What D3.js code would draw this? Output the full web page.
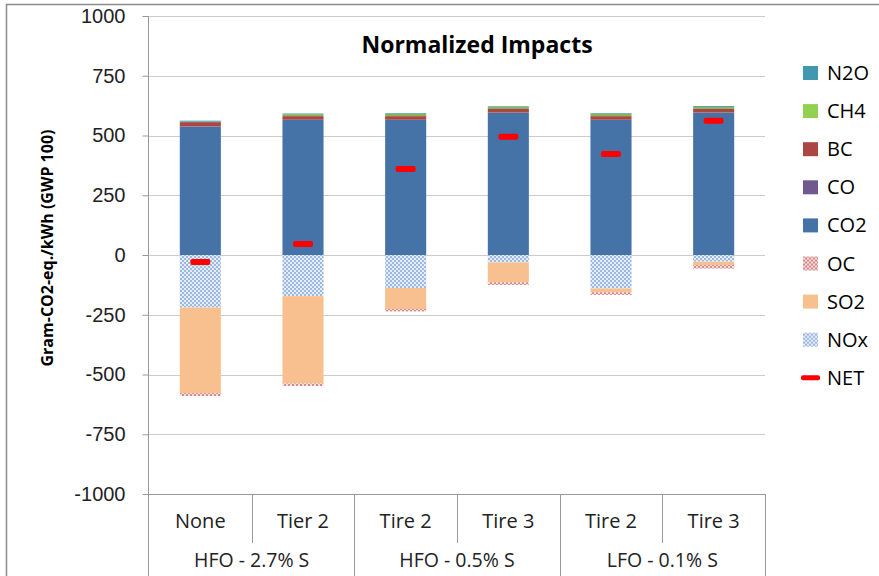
<!DOCTYPE html>
<html>
<head>
<meta charset="utf-8">
<script src="https://cdnjs.cloudflare.com/ajax/libs/d3/7.8.5/d3.min.js"></script>
<style>
  body { margin: 0; background: #fff; }
  svg { font-family: "Open Sans", "Liberation Sans", sans-serif; }
</style>
</head>
<body>
<svg id="chart" width="879" height="576"></svg>
<script>
// categories
var categories = ["None", "Tier 2", "Tire 2", "Tire 3", "Tire 2", "Tire 3"];
var groups = ["HFO - 2.7% S", "HFO - 0.5% S", "LFO - 0.1% S"];

// series values, Gram-CO2-eq./kWh
var CO2 = [537, 565, 565, 595, 565, 595];
var CO  = [1, 1, 1, 1, 1, 1];
var BC  = [18, 15, 15, 15, 15, 15];
var CH4 = [2, 8, 9, 8, 9, 8];
var N2O = [4, 3, 3, 3, 3, 4];
var NOx = [-220, -172, -138, -31, -140, -28];
var SO2 = [-358, -366, -88, -83, -16, -14];
var OC  = [-12, -10, -10, -11, -11, -15];
var NET = [-29, 46, 360, 495, 423, 562];

var yTicks = [1000, 750, 500, 250, 0, -250, -500, -750, -1000];
var legendKeys = ["N2O", "CH4", "BC", "CO", "CO2", "OC", "SO2", "NOx", "NET"];

var svg = d3.select("#chart");

// patterns for NOx and OC
var defs = svg.append("defs");
var pNox = defs.append("pattern").attr("id", "pat-nox")
  .attr("patternUnits", "userSpaceOnUse").attr("width", 4).attr("height", 4);
pNox.append("rect").attr("width", 4).attr("height", 4).attr("fill", "#9db9df");
pNox.append("rect").attr("x", 0).attr("y", 0).attr("width", 2).attr("height", 2).attr("fill", "#e4ecf7");
pNox.append("rect").attr("x", 2).attr("y", 2).attr("width", 2).attr("height", 2).attr("fill", "#e4ecf7");

var pOc = defs.append("pattern").attr("id", "pat-oc")
  .attr("patternUnits", "userSpaceOnUse").attr("width", 4).attr("height", 4);
pOc.append("rect").attr("width", 4).attr("height", 4).attr("fill", "#f6dede");
pOc.append("rect").attr("x", 0).attr("y", 0).attr("width", 2).attr("height", 2).attr("fill", "#d68a88");
pOc.append("rect").attr("x", 2).attr("y", 2).attr("width", 2).attr("height", 2).attr("fill", "#d68a88");

var colors = {
  CO2: "#4572a7", CO: "#71588f", BC: "#aa4643", CH4: "#89b54e", N2O: "#4198af",
  NOx: "url(#pat-nox)", SO2: "#f9c08f", OC: "url(#pat-oc)"
};
var legendColors = {
  N2O: "#4198af", CH4: "#92d050", BC: "#aa4643", CO: "#71588f", CO2: "#4572a7",
  OC: "url(#pat-oc)", SO2: "#f9c08f", NOx: "url(#pat-nox)"
};

// outer frame
svg.append("rect").attr("x", 6.5).attr("y", 4.5).attr("width", 900).attr("height", 600)
  .attr("fill", "none").attr("stroke", "#8c8c8c").attr("stroke-width", 1.5);

var x = d3.scaleBand().domain(d3.range(categories.length)).range([149, 765]).paddingInner(0.6).paddingOuter(0.3);
var xOuter = d3.scaleBand().domain(d3.range(categories.length)).range([149, 765]);
var y = d3.scaleLinear().domain([-1000, 1000]).range([494, 16]);

// gridlines
svg.append("g").selectAll("line").data(yTicks).join("line")
  .attr("x1", 149).attr("x2", 765)
  .attr("y1", function(d){ return Math.round(y(d)) + 0.5; })
  .attr("y2", function(d){ return Math.round(y(d)) + 0.5; })
  .attr("stroke", "#cccccc").attr("stroke-width", 1);

// y axis
var yAxis = svg.append("g").attr("transform", "translate(148.5,0)")
  .call(d3.axisLeft(y).tickValues(yTicks).tickSize(6).tickPadding(17)
    .tickFormat(function(d){ return String(d); }));
yAxis.select(".domain").remove();
yAxis.selectAll(".tick line").attr("stroke", "#999");
yAxis.selectAll(".tick text").attr("font-size", 20).attr("fill", "#222");
svg.append("line").attr("x1", 148.5).attr("x2", 148.5).attr("y1", 16).attr("y2", 576)
  .attr("stroke", "#999");

// stacked bars
var keys = ["CO2", "CO", "BC", "CH4", "N2O", "NOx", "SO2", "OC"];
var series = { CO2: CO2, CO: CO, BC: BC, CH4: CH4, N2O: N2O, NOx: NOx, SO2: SO2, OC: OC };
var table = categories.map(function(c, i){
  var row = { i: i };
  keys.forEach(function(k){ row[k] = series[k][i]; });
  return row;
});
var stack = d3.stack().keys(keys).offset(d3.stackOffsetDiverging)(table);

svg.append("g").selectAll("g").data(stack).join("g")
  .attr("fill", function(d){ return colors[d.key]; })
  .selectAll("rect").data(function(d){ return d; }).join("rect")
  .attr("x", function(d){ return x(d.data.i); })
  .attr("width", x.bandwidth())
  .attr("y", function(d){ return y(Math.max(d[0], d[1])); })
  .attr("height", function(d){ return Math.abs(y(d[0]) - y(d[1])); });

// NET markers
svg.append("g").selectAll("rect").data(NET).join("rect")
  .attr("x", function(d, i){ return x(i) + x.bandwidth() / 2 - 10; })
  .attr("y", function(d){ return y(d) - 3; })
  .attr("width", 20).attr("height", 6).attr("rx", 2)
  .attr("fill", "#ff0000");

// category axis
svg.append("line").attr("x1", 149).attr("x2", 765).attr("y1", 494.5).attr("y2", 494.5).attr("stroke", "#999");
svg.append("g").selectAll("line").data(d3.range(1, categories.length + 1)).join("line")
  .attr("x1", function(d){ return Math.round(xOuter(0) + d * xOuter.step()) + 0.5; })
  .attr("x2", function(d){ return Math.round(xOuter(0) + d * xOuter.step()) + 0.5; })
  .attr("y1", 494)
  .attr("y2", function(d){ return d % 2 === 0 ? 576 : 543; })
  .attr("stroke", "#999");

svg.append("g").selectAll("text").data(categories).join("text")
  .attr("x", function(d, i){ return xOuter(i) + xOuter.bandwidth() / 2; })
  .attr("y", 528).attr("text-anchor", "middle").attr("font-size", 20).attr("fill", "#222")
  .text(function(d){ return d; });

svg.append("g").selectAll("text").data(groups).join("text")
  .attr("x", function(d, i){ return xOuter(i * 2) + xOuter.bandwidth(); })
  .attr("y", 567).attr("text-anchor", "middle").attr("font-size", 19.5).attr("fill", "#222")
  .text(function(d){ return d; });

// title
svg.append("text").attr("x", 477).attr("y", 53).attr("text-anchor", "middle")
  .attr("font-size", 23).attr("font-weight", "bold").attr("fill", "#000")
  .text("Normalized Impacts");

// y axis title
svg.append("text").attr("transform", "translate(53,248) rotate(-90)")
  .attr("text-anchor", "middle").attr("font-size", 16).attr("font-weight", "bold").attr("fill", "#000")
  .text("Gram-CO2-eq./kWh (GWP 100)");

// legend
var legend = svg.append("g").selectAll("g").data(legendKeys).join("g")
  .attr("transform", function(d, i){ return "translate(803," + (73 + i * 38.1) + ")"; });
legend.each(function(d){
  var g = d3.select(this);
  if (d === "NET") {
    g.append("rect").attr("x", -2).attr("y", -2.5).attr("width", 19).attr("height", 5).attr("rx", 2).attr("fill", "#ff0000");
  } else {
    g.append("rect").attr("x", 0).attr("y", -7).attr("width", 15).attr("height", 14).attr("fill", legendColors[d]);
  }
});
legend.append("text").attr("x", 24).attr("y", 7).attr("font-size", 20).attr("fill", "#000")
  .text(function(d){ return d; });
</script>
</body>
</html>
